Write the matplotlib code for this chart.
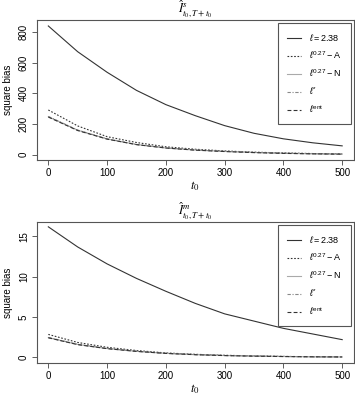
import matplotlib
matplotlib.use('Agg')
import matplotlib.pyplot as plt

plt.rcParams['font.family'] = ['Liberation Sans', 'DejaVu Sans']
plt.rcParams['font.size'] = 7
plt.rcParams['mathtext.fontset'] = 'custom'
plt.rcParams['mathtext.rm'] = 'Liberation Sans'
plt.rcParams['mathtext.it'] = 'Liberation Sans:italic'

# burn-in times
t0 = [0, 50, 100, 150, 200, 250, 300, 350, 400, 450, 500]

# square bias for the s-estimator (top panel)
s_238 = [840, 672, 538, 420, 327, 255, 190, 140, 104, 78, 58]
s_A = [292, 188, 118, 80, 52, 36, 25, 17, 12, 8, 6]
s_N = [248, 160, 103, 67, 44, 31, 22, 15, 10, 6, 4]
s_star = [250, 161, 104, 67, 45, 31, 22, 15, 10, 7, 4]
s_ent = [246, 158, 102, 66, 44, 30, 21, 14, 9, 6, 4]

# square bias for the m-estimator (bottom panel)
m_238 = [16.2, 13.7, 11.6, 9.8, 8.2, 6.7, 5.4, 4.5, 3.6, 2.9, 2.2]
m_A = [2.85, 1.85, 1.25, 0.85, 0.55, 0.38, 0.26, 0.18, 0.12, 0.08, 0.06]
m_N = [2.45, 1.6, 1.1, 0.75, 0.5, 0.34, 0.23, 0.16, 0.11, 0.07, 0.05]
m_star = [2.47, 1.62, 1.1, 0.76, 0.5, 0.34, 0.23, 0.16, 0.11, 0.07, 0.05]
m_ent = [2.43, 1.58, 1.08, 0.74, 0.49, 0.33, 0.22, 0.15, 0.1, 0.07, 0.05]

labels = [r'$\ell = 2.38$', r'$\ell^{0.27} - \mathrm{A}$', r'$\ell^{0.27} - \mathrm{N}$',
          r'$\ell^{*}$', r'$\ell^{\mathrm{ent}}$']
styles = [dict(color='#333333', ls='-'),
          dict(color='#333333', ls=(0, (1.5, 1.5))),
          dict(color='#aaaaaa', ls='-'),
          dict(color='#888888', ls=(0, (3, 1.5, 1, 1.5))),
          dict(color='#333333', ls=(0, (3.5, 2)))]

panels = [
    (r'$\hat{I}^{s}_{t_0,T+t_0}$', [s_238, s_A, s_N, s_star, s_ent], (-34, 878), [0, 200, 400, 600, 800]),
    (r'$\hat{I}^{m}_{t_0,T+t_0}$', [m_238, m_A, m_N, m_star, m_ent], (-0.7, 16.8), [0, 5, 10, 15]),
]

fig = plt.figure(figsize=(3.55, 3.95), dpi=100)
positions = [[0.103, 0.595, 0.894, 0.354], [0.103, 0.081, 0.894, 0.357]]

for pos, (title, series, ylim, yticks) in zip(positions, panels):
    ax = fig.add_axes(pos)
    for ys, lab, st in zip(series, labels, styles):
        ax.plot(t0, ys, lw=0.8, label=lab, **st)
    ax.set_xlim(-20, 520)
    ax.set_ylim(*ylim)
    ax.set_xticks([0, 100, 200, 300, 400, 500])
    ax.set_yticks(yticks)
    ax.set_yticklabels([str(v) for v in yticks], rotation=90, va='center')
    ax.tick_params(length=3.5, width=0.6, color='#444444', pad=2)
    for sp in ax.spines.values():
        sp.set_color('#555555')
        sp.set_linewidth(0.8)
    ax.set_title(title, fontsize=9, pad=1.5, math_fontfamily='stix')
    ax.set_xlabel(r'$t_0$', fontsize=9, labelpad=1, math_fontfamily='stix')
    ax.set_ylabel('square bias', labelpad=4)
    leg = ax.legend(loc='upper right', bbox_to_anchor=(0.99, 0.978), fontsize=6.5,
                    handlelength=1.6, handletextpad=0.9, labelspacing=0.7,
                    borderpad=1.0, borderaxespad=0, fancybox=False, framealpha=1)
    leg.get_frame().set_edgecolor('#555555')
    leg.get_frame().set_linewidth(0.8)

fig.savefig('out.png', dpi=100)
